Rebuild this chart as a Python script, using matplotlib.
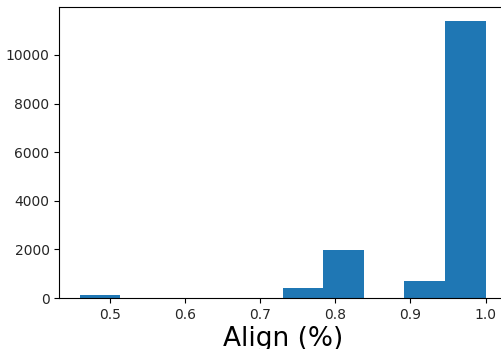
import numpy as np
import matplotlib
matplotlib.use('Agg')
import matplotlib.pyplot as plt

# histogram of alignment scores (10 bins from 0.46 to 1.0)
bin_edges = [0.46, 0.514, 0.568, 0.622, 0.676, 0.73, 0.784, 0.838, 0.892, 0.946, 1.0]
bin_counts = [120, 0, 0, 0, 0, 425, 1980, 0, 690, 11400]

edges = np.array(bin_edges)
centers = (edges[:-1] + edges[1:]) / 2

fig = plt.figure(figsize=(5.02, 3.49), dpi=100)
ax = fig.add_axes([0.118, 0.146, 0.89, 0.834])

ax.hist(centers, bins=edges, weights=bin_counts, color='#1f77b4')

ax.set_xlabel('Align (%)', fontsize=19, labelpad=3)
ax.tick_params(labelsize=10, labelcolor='#262626')

fig.savefig('out.png', dpi=100, facecolor='white')
